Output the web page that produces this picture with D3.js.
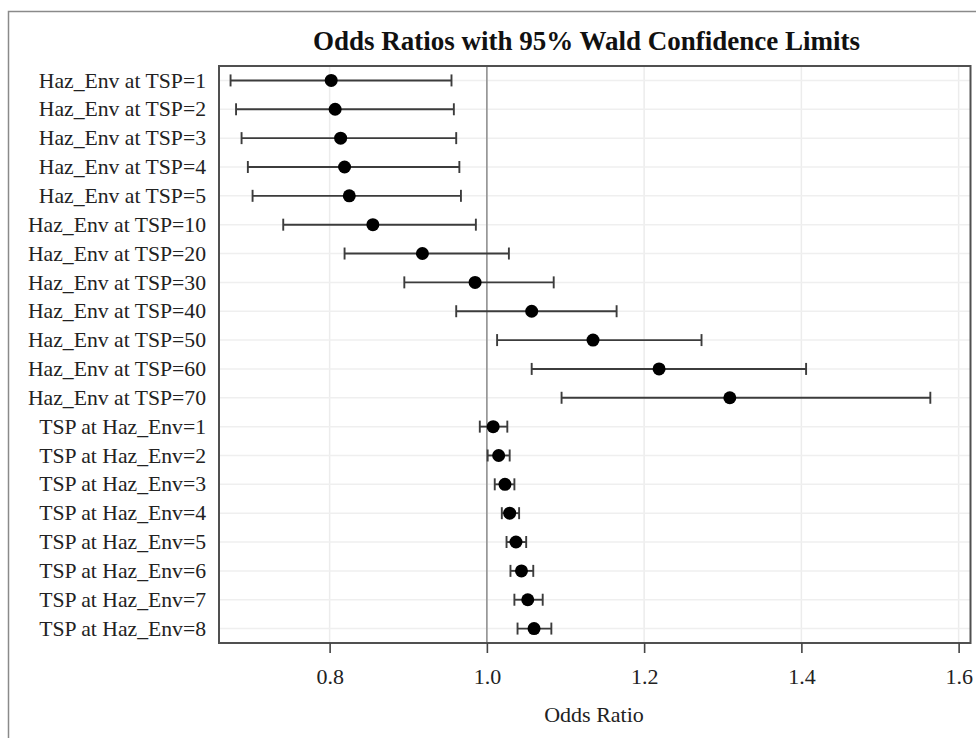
<!DOCTYPE html>
<html>
<head>
<meta charset="utf-8">
<script src="https://cdn.jsdelivr.net/npm/d3@7"></script>
<style>
  html, body { margin: 0; padding: 0; background: #fff; }
  svg { display: block; }
</style>
</head>
<body>
<svg id="chart" width="976" height="738"></svg>
<script>
const labels = [
  "Haz_Env at TSP=1", "Haz_Env at TSP=2", "Haz_Env at TSP=3", "Haz_Env at TSP=4",
  "Haz_Env at TSP=5", "Haz_Env at TSP=10", "Haz_Env at TSP=20", "Haz_Env at TSP=30",
  "Haz_Env at TSP=40", "Haz_Env at TSP=50", "Haz_Env at TSP=60", "Haz_Env at TSP=70",
  "TSP at Haz_Env=1", "TSP at Haz_Env=2", "TSP at Haz_Env=3", "TSP at Haz_Env=4",
  "TSP at Haz_Env=5", "TSP at Haz_Env=6", "TSP at Haz_Env=7", "TSP at Haz_Env=8"
];
const oddsRatio = [0.802, 0.807, 0.814, 0.819, 0.825, 0.855, 0.918, 0.985, 1.057, 1.135, 1.219, 1.309,
  1.008, 1.015, 1.023, 1.029, 1.037, 1.044, 1.052, 1.060];
const lowerCL = [0.674, 0.681, 0.688, 0.696, 0.702, 0.741, 0.819, 0.895, 0.961, 1.013, 1.057, 1.095,
  0.991, 1.001, 1.010, 1.019, 1.025, 1.030, 1.035, 1.039];
const upperCL = [0.955, 0.958, 0.961, 0.965, 0.967, 0.986, 1.028, 1.085, 1.165, 1.273, 1.406, 1.564,
  1.026, 1.029, 1.035, 1.041, 1.050, 1.059, 1.071, 1.082];
const xTicks = [0.8, 1.0, 1.2, 1.4, 1.6];
const titleText = "Odds Ratios with 95% Wald Confidence Limits";
const xTitle = "Odds Ratio";
const refValue = 1.0;

const data = labels.map((l, i) => ({ label: l, or: oddsRatio[i], lo: lowerCL[i], hi: upperCL[i] }));

const svg = d3.select("#chart");
const font = "'Liberation Serif', 'Times New Roman', serif";
const L = 219, R = 970.5, T = 66, B = 643;

// outer border
svg.append("rect").attr("x", 8.5).attr("y", 11.5).attr("width", 1000).attr("height", 1000)
  .attr("fill", "none").attr("stroke", "#8a8a8a").attr("stroke-width", 1.5);

const x = d3.scaleLinear().domain([0.6593, 1.6151]).range([L, R]);
const y = d3.scalePoint().domain(labels).range([T, B]).padding(0.5);

// gridlines
svg.append("g").selectAll("line").data(xTicks).join("line")
  .attr("x1", d => x(d)).attr("x2", d => x(d)).attr("y1", T).attr("y2", B)
  .attr("stroke", "#ececec").attr("stroke-width", 1.5);
svg.append("g").selectAll("line").data(labels).join("line")
  .attr("x1", L).attr("x2", R).attr("y1", d => y(d)).attr("y2", d => y(d))
  .attr("stroke", "#efefef").attr("stroke-width", 1.5);

// reference line
svg.append("line").attr("x1", x(refValue)).attr("x2", x(refValue)).attr("y1", T).attr("y2", B)
  .attr("stroke", "#8c8c8c").attr("stroke-width", 1.5);

// error bars
const eb = svg.append("g").attr("stroke", "#3c3c3c").attr("stroke-width", 1.9).attr("fill", "none");
eb.selectAll("line.h").data(data).join("line").attr("class", "h")
  .attr("x1", d => x(d.lo)).attr("x2", d => x(d.hi))
  .attr("y1", d => y(d.label)).attr("y2", d => y(d.label));
eb.selectAll("line.cl").data(data).join("line").attr("class", "cl")
  .attr("x1", d => x(d.lo)).attr("x2", d => x(d.lo))
  .attr("y1", d => y(d.label) - 6).attr("y2", d => y(d.label) + 6);
eb.selectAll("line.ch").data(data).join("line").attr("class", "ch")
  .attr("x1", d => x(d.hi)).attr("x2", d => x(d.hi))
  .attr("y1", d => y(d.label) - 6).attr("y2", d => y(d.label) + 6);

// markers
svg.append("g").selectAll("circle").data(data).join("circle")
  .attr("cx", d => x(d.or)).attr("cy", d => y(d.label)).attr("r", 6.5).attr("fill", "#000");

// frame
svg.append("rect").attr("x", L).attr("y", T).attr("width", R - L).attr("height", B - T)
  .attr("fill", "none").attr("stroke", "#505050").attr("stroke-width", 2);

// x axis
const xAxis = svg.append("g").attr("transform", `translate(0,${B})`)
  .call(d3.axisBottom(x).tickValues(xTicks).tickFormat(d3.format(".1f")).tickSize(10).tickPadding(15));
xAxis.select(".domain").remove();
xAxis.selectAll(".tick line").attr("stroke", "#444").attr("stroke-width", 1.6);
xAxis.selectAll(".tick text").attr("font-family", font).attr("font-size", 22).attr("fill", "#222");

// y labels
svg.append("g").selectAll("text").data(labels).join("text")
  .attr("x", 206).attr("y", d => y(d)).attr("dy", "0.33em")
  .attr("text-anchor", "end").attr("font-family", font).attr("font-size", 21.7).attr("fill", "#222")
  .text(d => d);

// title
svg.append("text").attr("x", 586.5).attr("y", 50).attr("text-anchor", "middle")
  .attr("font-family", font).attr("font-weight", "bold").attr("font-size", 27).attr("fill", "#111")
  .text(titleText);

// axis title
svg.append("text").attr("x", 594).attr("y", 722).attr("text-anchor", "middle")
  .attr("font-family", font).attr("font-size", 22).attr("fill", "#222")
  .text(xTitle);
</script>
</body>
</html>
